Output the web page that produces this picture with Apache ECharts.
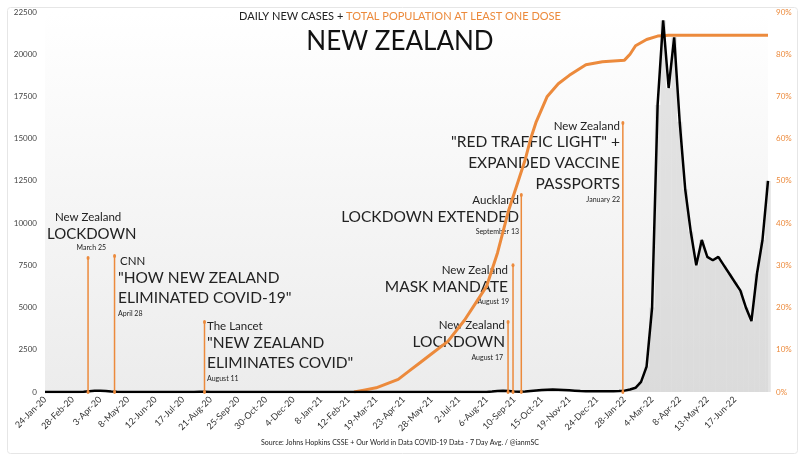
<!DOCTYPE html>
<html><head><meta charset="utf-8">
<script src="https://cdn.jsdelivr.net/npm/echarts@6/dist/echarts.min.js"></script>
<style>html,body{margin:0;padding:0;background:#fff}#c{width:800px;height:456px}</style>
</head><body><div id="c"></div>
<script>
// weekly categories starting 24-Jan-20
const startDate = new Date(Date.UTC(2020,0,24));
const nWeeks = 132;
const months = ['Jan','Feb','Mar','Apr','May','Jun','Jul','Aug','Sep','Oct','Nov','Dec'];
const categories = [];
for (let i=0;i<nWeeks;i++){const d=new Date(startDate.getTime()+i*7*86400000);categories.push(d.getUTCDate()+'-'+months[d.getUTCMonth()]+'-'+String(d.getUTCFullYear()).slice(2));}

// daily new cases, 7-day avg (weekly samples)
const cases = [0,0,0,0,0,0,0,20,50,70,80,60,30,10,3,1,0,0,0,0,0,0,0,0,0,0,0,5,10,10,5,3,2,2,1,1,1,1,1,1,1,1,2,2,1,1,1,1,1,1,1,1,1,2,3,3,2,2,1,1,1,1,1,1,1,1,1,1,1,1,1,1,1,1,1,1,1,1,1,1,1,30,60,80,60,30,20,30,60,90,120,140,150,140,120,100,80,60,50,40,45,50,50,50,60,80,150,250,600,1500,5000,17000,22000,18000,21000,16000,12000,9500,7500,9000,8000,7800,8000,7500,7000,6500,6000,5000,4200,7000,9000,12500];
// total population with at least one dose (%)
const doseWeeks = [56,58,60,62,64,66,68,70,73,76,78,80,82,84,86,87,88,89,90,91,93,95,98,101,105,106,107,109,111,113,131];
const doseVals  = [0,0.5,1,2,3,5,7,9,12,17,21,25,33,43,51,55,60,64,67,70,73,75,77.5,78.2,78.6,80,82,83.5,84.3,84.5,84.5];
const dose = new Array(nWeeks).fill(null);
doseWeeks.forEach((w,k)=>dose[w]=doseVals[k]);
const leftTicks = [0,2500,5000,7500,10000,12500,15000,17500,20000,22500];
const lastLabelIdx = 125;

// annotations: week index, top value
const annIdx = [7.8,12.6,28.9,83.9,84.8,86.3,104.7];
const annTop = [7930,8050,4150,4150,7500,11660,15930];

const OR='#ec8a3c', DK='#222';
const series = [
 {type:'bar',data:cases,barCategoryGap:'0%',itemStyle:{color:'rgba(205,205,205,0.55)'},silent:true,z:1},
 {type:'line',data:cases,showSymbol:false,lineStyle:{color:'#000',width:2.5},z:5},
 {type:'line',yAxisIndex:1,data:dose,connectNulls:true,showSymbol:false,lineStyle:{color:OR,width:3},z:4}
];
annIdx.forEach((x,k)=>series.push({type:'line',xAxisIndex:1,data:[[x,0],[x,annTop[k]]],symbol:'circle',symbolSize:[3,4],lineStyle:{color:OR,width:1.5},itemStyle:{color:OR},z:6,silent:true}));

function T(x,y,txt,size,align,color){return {type:'text',left:align==='right'?undefined:x,right:align==='right'?800-x:undefined,top:y,style:{text:txt,fontSize:size,fill:color||DK,fontFamily:'Lato',textAlign:align||'left'}};}
const B=15.5;
const g=[
 T(55,211,'New Zealand',11.5),T(47,227,'LOCKDOWN',15),T(106,244,'March 25',7,'right'),
 T(120,255,'CNN',11.5),T(118,270,'"HOW NEW ZEALAND',B),T(118,290,'ELIMINATED COVID-19"',B),T(118,310,'April 28',7),
 T(207,320,'The Lancet',11.5),T(207,335,'"NEW ZEALAND',B),T(207,355,'ELIMINATES COVID"',B),T(207,375,'August 11',7),
 T(505,319,'New Zealand',11.5,'right'),T(505,334,'LOCKDOWN',B,'right'),T(503,354,'August 17',7,'right'),
 T(508,264,'New Zealand',11.5,'right'),T(508,279,'MASK MANDATE',B,'right'),T(509,298,'August 19',7,'right'),
 T(519,194,'Auckland',11.5,'right'),T(519,209,'LOCKDOWN EXTENDED',B,'right'),T(519,228,'September 13',7,'right'),
 T(620,120,'New Zealand',11.5,'right'),T(620,134,'"RED TRAFFIC LIGHT" +',B,'right'),T(620,155,'EXPANDED VACCINE',B,'right'),T(620,176,'PASSPORTS',B,'right'),T(620,196,'January 22',7,'right'),
 {type:'text',left:'center',top:11,style:{text:'{a|DAILY NEW CASES + }{b|TOTAL POPULATION AT LEAST ONE DOSE}',rich:{a:{fontSize:11,fill:DK,fontFamily:'Lato'},b:{fontSize:11,fill:OR,fontFamily:'Lato'}}}},
 {type:'text',left:'center',top:29,style:{text:'NEW ZEALAND',fontSize:26,fill:'#111',fontFamily:'Lato'}},
 {type:'text',left:'center',top:439,style:{text:'Source: Johns Hopkins CSSE + Our World in Data COVID-19 Data - 7 Day Avg. / @ianmSC',fontSize:7,fill:DK,fontFamily:'Lato'}},
 {type:'rect',left:5,top:5,shape:{width:790,height:446,r:3},style:{fill:'none',stroke:'#e6e6e6'},z:-1}
];

const chart=echarts.init(document.getElementById('c'));
chart.setOption({
 animation:false,
 grid:{left:45,right:32,top:12,bottom:64,show:true,borderWidth:0,backgroundColor:{type:'linear',x:0,y:0,x2:0,y2:1,colorStops:[{offset:0,color:'#ffffff'},{offset:1,color:'#ececec'}]}},
 xAxis:[{type:'category',data:categories,boundaryGap:false,axisLine:{show:false},axisTick:{show:false},
   axisLabel:{interval:4,rotate:45,fontSize:9,color:'#333',fontFamily:'Lato',margin:6,formatter:(v,i)=>i>lastLabelIdx?'':v}},
  {type:'value',min:0,max:nWeeks-1,show:false}],
 yAxis:[{type:'value',min:0,max:22500,interval:2500,splitLine:{show:false},axisLine:{show:false},axisTick:{show:false},
   axisLabel:{fontSize:8,color:'#444',fontFamily:'Lato',formatter:v=>leftTicks.includes(v)?String(v):''}},
  {type:'value',min:0,max:90,interval:10,splitLine:{show:false},axisLine:{show:false},axisTick:{show:false},
   axisLabel:{fontSize:8,color:OR,fontFamily:'Lato',formatter:'{value}%'}}],
 graphic:g,
 series:series
});
</script></body></html>
